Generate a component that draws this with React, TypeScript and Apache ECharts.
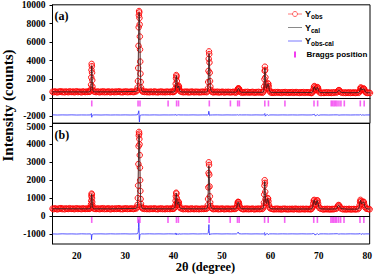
import React, { useEffect, useRef } from 'react';
import * as echarts from 'echarts';

// 2θ (deg), Yobs panel (a), Yobs panel (b)
const observed: number[][] = [
  [15,650,410],[15.25,600,380],[15.5,690,430],[15.75,620,395],[16,580,370],[16.25,670,420],[16.5,640,400],[16.75,700,440],
  [17,610,385],[17.25,660,415],[17.5,590,375],[17.75,680,425],[18,630,400],[18.25,600,390],[18.5,700,435],[18.75,640,405],
  [19,620,395],[19.25,680,420],[19.5,590,380],[19.75,650,410],[20,700,430],[20.25,610,390],[20.5,660,415],[20.75,630,400],
  [21,590,385],[21.25,690,430],[21.5,640,405],[21.75,610,390],[22,670,420],[22.25,630,400],[22.5,660,410],
  [22.6,640,400],[22.8,700,430],[22.9,900,500],[22.96,1400,650],[23.0,2200,850],[23.04,3000,1100],[23.08,3650,1250],
  [23.12,3400,1200],[23.16,2700,1000],[23.2,1900,780],[23.25,1200,600],[23.32,850,480],[23.45,700,420],[23.7,650,400],
  [24,610,390],[24.25,680,420],[24.5,640,405],[24.75,590,380],[25,670,425],[25.25,620,395],[25.5,700,435],[25.75,600,385],
  [26,650,410],[26.25,610,390],[26.5,690,430],[26.75,630,400],[27,590,375],[27.25,670,420],[27.5,640,405],[27.75,600,390],
  [28,680,425],[28.25,620,395],[28.5,650,410],[28.75,700,435],[29,610,385],[29.25,640,405],[29.5,590,380],[29.75,670,420],
  [30,630,400],[30.25,690,430],[30.5,600,390],[30.75,650,410],[31,620,395],[31.25,680,425],[31.5,640,405],[31.75,610,390],[32,670,420],
  [32.3,700,420],[32.45,800,480],[32.55,1100,620],[32.62,1800,1000],[32.68,3200,1700],[32.74,5600,2900],[32.78,7600,3900],
  [32.82,8900,4500],[32.86,9350,4700],[32.9,9200,4600],[32.94,8600,4300],[32.98,7900,4000],[33.02,6600,3400],[33.06,5200,2700],
  [33.1,3900,2000],[33.15,2600,1400],[33.2,1700,950],[33.27,1100,680],[33.35,850,520],[33.5,700,440],[33.7,660,410],
  [34,620,395],[34.25,680,425],[34.5,600,385],[34.75,650,410],[35,590,380],[35.25,670,420],[35.5,630,400],[35.75,600,390],
  [36,690,430],[36.25,610,390],[36.5,640,405],[36.75,580,375],[37,660,415],[37.25,620,395],[37.5,680,425],[37.75,600,385],
  [38,640,405],[38.25,590,380],[38.5,670,420],[38.75,620,395],[39,650,410],[39.25,600,385],[39.5,680,425],[39.75,630,400],
  [39.9,620,400],[40.1,650,420],[40.25,750,480],[40.35,1000,620],[40.42,1500,850],[40.48,2100,1100],[40.54,2450,1300],
  [40.6,2300,1250],[40.66,1800,1000],[40.72,1300,780],[40.8,1050,650],[40.88,1000,640],[40.95,1150,720],[41.02,1300,800],
  [41.08,1200,760],[41.15,950,620],[41.25,780,500],[41.4,680,440],[41.7,630,410],
  [42,590,380],[42.25,660,415],[42.5,610,390],[42.75,670,420],[43,580,375],[43.25,640,405],[43.5,600,385],[43.75,680,425],
  [44,620,395],[44.25,590,380],[44.5,660,415],[44.75,610,390],[45,650,410],[45.25,580,375],[45.5,640,405],[45.75,600,390],
  [46,670,420],[46.25,610,390],[46.5,640,405],
  [46.8,600,400],[46.95,700,450],[47.05,1000,600],[47.12,1700,950],[47.18,2900,1600],[47.23,4200,2400],[47.28,5000,3000],
  [47.33,4700,2850],[47.38,3800,2300],[47.44,2700,1650],[47.5,1800,1100],[47.57,1200,760],[47.66,850,560],[47.8,680,450],[48,620,410],
  [48.25,580,380],[48.5,650,415],[48.75,600,390],[49,660,420],[49.25,570,375],[49.5,630,405],[49.75,590,385],[50,660,420],
  [50.25,610,395],[50.5,570,375],[50.75,640,410],[51,600,390],[51.25,650,415],[51.5,580,380],[51.75,620,400],[52,590,385],
  [52.25,650,415],[52.5,600,390],
  [52.8,560,400],[53,620,450],[53.12,750,560],[53.2,900,690],[53.28,1000,790],[53.36,980,760],[53.44,1000,780],[53.52,900,680],
  [53.62,740,560],[53.75,620,470],[54,560,410],
  [54.25,600,390],[54.5,560,375],[54.75,630,410],[55,580,385],[55.25,640,415],[55.5,560,375],[55.75,610,400],[56,580,385],
  [56.25,640,415],[56.5,590,390],[56.75,550,370],[57,620,405],[57.25,580,385],[57.5,640,415],[57.75,570,380],[58,610,400],
  [58.3,540,390],[58.5,620,430],[58.6,800,540],[58.66,1200,750],[58.72,2000,1200],[58.77,2900,1700],[58.82,3350,2000],
  [58.87,3000,1850],[58.93,2200,1350],[59,1500,950],[59.08,1150,760],[59.16,1000,700],[59.25,1050,740],[59.35,1300,850],
  [59.45,1550,990],[59.52,1500,970],[59.6,1250,820],[59.7,900,620],[59.82,680,480],[60,580,420],[60.3,540,400],
  [60.5,590,390],[60.75,540,370],[61,610,405],[61.25,560,380],[61.5,620,410],[61.75,550,375],[62,590,395],[62.25,530,365],
  [62.5,600,400],[62.75,570,385],[63,620,410],[63.25,550,375],[63.5,590,395],[63.75,540,370],[64,600,400],[64.25,560,380],
  [64.5,610,405],[64.75,540,370],[65,580,390],[65.25,620,410],[65.5,550,375],[65.75,590,395],[66,530,365],[66.25,600,400],
  [66.5,560,380],[66.75,610,405],[67,540,370],[67.25,580,390],[67.5,600,400],[67.75,550,375],[68,590,395],[68.25,540,370],
  [68.4,510,390],[68.6,560,420],[68.75,700,530],[68.85,950,700],[68.95,1200,860],[69.05,1260,900],[69.15,1100,800],
  [69.25,900,660],[69.35,820,610],[69.45,880,660],[69.55,1050,790],[69.65,1150,880],[69.75,1100,850],[69.85,900,700],
  [69.95,700,550],[70.1,580,450],[70.4,510,400],
  [70.75,560,385],[71,520,365],[71.25,580,395],[71.5,540,375],[71.75,590,400],[72,530,370],[72.25,570,390],[72.5,520,365],
  [72.75,580,395],[73,540,375],[73.25,590,400],
  [73.6,560,400],[73.8,640,470],[73.95,780,580],[74.1,830,615],[74.25,760,570],[74.4,640,480],[74.6,560,410],
  [75,530,370],[75.25,580,395],[75.5,520,365],[75.75,570,390],[76,530,370],[76.25,590,400],[76.5,520,365],[76.75,560,385],
  [77,540,375],[77.25,580,395],[77.5,520,365],[77.75,560,385],
  [78.1,540,380],[78.3,600,440],[78.42,750,600],[78.52,1000,800],[78.6,1120,900],[78.7,1000,820],[78.82,850,680],
  [78.95,850,680],[79.08,950,760],[79.2,1000,800],[79.3,960,770],[79.42,780,620],[79.55,620,490],[79.75,540,420],[80,520,400],
  [80.25,560,390],[80.5,520,375],
];

// 2θ (deg), Ycal panel (a), Ycal panel (b)
const calculated: number[][] = [
  [15,640,405],[19,635,402],[22.5,630,400],[22.8,690,425],[22.9,870,490],[22.96,1350,640],[23.0,2150,840],[23.04,2950,1080],
  [23.08,3450,1220],[23.12,3300,1180],[23.16,2700,990],[23.2,1850,770],[23.25,1180,590],[23.32,830,470],[23.45,690,420],
  [23.7,640,402],[27,632,400],[32.3,690,425],[32.45,790,475],[32.55,1080,610],[32.62,1750,980],[32.68,3100,1650],
  [32.74,5400,2750],[32.78,7400,3750],[32.82,8800,4350],[32.86,9200,4550],[32.9,9050,4450],[32.94,8500,4200],[32.98,7800,3900],
  [33.02,6600,3350],[33.06,5300,2700],[33.1,3950,2050],[33.15,2650,1450],[33.2,1750,980],[33.27,1120,690],[33.35,850,520],
  [33.5,700,440],[33.7,650,408],[37,625,400],[39.9,625,402],[40.1,650,418],[40.25,740,475],[40.35,980,610],[40.42,1450,830],
  [40.48,2050,1080],[40.54,2380,1270],[40.6,2250,1220],[40.66,1780,980],[40.72,1300,770],[40.8,1060,650],[40.88,1010,645],
  [40.95,1140,715],[41.02,1280,790],[41.08,1190,750],[41.15,950,615],[41.25,780,500],[41.4,670,440],[41.7,625,408],
  [44,618,400],[46.8,615,402],[46.95,700,450],[47.05,990,600],[47.12,1650,940],[47.18,2800,1550],[47.23,4050,2300],
  [47.28,4750,2800],[47.33,4550,2700],[47.38,3750,2250],[47.44,2700,1620],[47.5,1800,1090],[47.57,1200,760],[47.66,850,560],
  [47.8,680,450],[48,620,410],[50,610,398],[52.8,600,400],[53,630,450],[53.12,750,560],[53.2,890,680],[53.28,980,770],
  [53.36,965,750],[53.44,975,760],[53.52,880,670],[53.62,735,555],[53.75,625,470],[54,590,410],[56,595,396],[58.3,585,395],
  [58.5,630,430],[58.6,800,540],[58.66,1180,740],[58.72,1950,1170],[58.77,2800,1650],[58.82,3200,1930],[58.87,2950,1800],
  [58.93,2200,1340],[59,1520,960],[59.08,1160,770],[59.16,1020,705],[59.25,1060,745],[59.35,1290,850],[59.45,1500,970],
  [59.52,1470,955],[59.6,1230,810],[59.7,900,620],[59.82,690,480],[60,600,420],[60.3,580,400],[64,575,390],[68.4,565,392],
  [68.6,590,420],[68.75,710,530],[68.85,940,690],[68.95,1170,850],[69.05,1220,885],[69.15,1090,795],[69.25,900,665],
  [69.35,830,615],[69.45,880,660],[69.55,1030,780],[69.65,1120,860],[69.75,1080,835],[69.85,890,690],[69.95,710,550],
  [70.1,600,450],[70.4,565,400],[72,555,385],[73.6,560,395],[73.8,630,465],[73.95,760,570],[74.1,810,605],[74.25,750,565],
  [74.4,640,480],[74.6,570,410],[76,550,382],[78.1,555,385],[78.3,610,440],[78.42,740,590],[78.52,980,790],[78.6,1090,880],
  [78.7,990,810],[78.82,850,680],[78.95,850,680],[79.08,940,750],[79.2,980,790],[79.3,940,760],[79.42,780,620],[79.55,630,490],
  [79.75,560,420],[80,545,400],[80.5,540,390],
];

// 2θ (deg), Yobs-cal panel (a) (offset), Yobs-cal panel (b) (offset)
const difference: number[][] = [
  [15,-1840,-1000],[16,-1860,-1010],[17,-1845,-995],[18,-1855,-1005],[19,-1840,-1000],[20,-1860,-1008],[21,-1848,-996],
  [22,-1855,-1004],[22.8,-1850,-1000],[22.95,-1800,-1010],[23.02,-1700,-1080],[23.06,-1900,-1320],[23.1,-2100,-1200],
  [23.14,-1950,-1060],[23.25,-1860,-1010],[23.5,-1850,-1000],[24,-1845,-1002],[25,-1858,-998],[26,-1842,-1006],
  [27,-1856,-996],[28,-1846,-1004],[29,-1855,-1000],[30,-1843,-997],[31,-1857,-1005],[32,-1848,-1000],[32.5,-1840,-1000],
  [32.62,-1800,-990],[32.7,-1650,-900],[32.76,-1500,-650],[32.8,-1400,-250],[32.84,-1650,-200],[32.88,-2200,-600],
  [32.93,-2600,-1320],[32.98,-2300,-1250],[33.04,-1950,-1100],[33.1,-1880,-1040],[33.2,-1860,-1010],[33.4,-1850,-1000],
  [34,-1845,-1004],[35,-1856,-996],[36,-1842,-1003],[37,-1858,-998],[38,-1846,-1005],[39,-1853,-997],[40,-1845,-1002],
  [40.3,-1850,-1000],[40.45,-1800,-960],[40.52,-1880,-1050],[40.6,-1820,-980],[40.7,-1870,-1040],[40.85,-1840,-990],
  [41,-1830,-1030],[41.1,-1860,-980],[41.3,-1850,-1010],[42,-1848,-1000],[43,-1855,-1004],[44,-1843,-996],[45,-1857,-1005],
  [46,-1846,-998],[47,-1850,-1000],[47.15,-1820,-960],[47.25,-1450,-700],[47.3,-1400,-480],[47.35,-1750,-800],
  [47.42,-1920,-1060],[47.55,-1860,-1010],[48,-1850,-1000],[49,-1842,-996],[50,-1856,-1004],[51,-1845,-998],[52,-1853,-1003],
  [53,-1850,-1000],[53.2,-1830,-960],[53.35,-1870,-900],[53.5,-1840,-990],[54,-1850,-1002],[55,-1845,-997],[56,-1856,-1004],
  [57,-1843,-999],[58,-1854,-1003],[58.6,-1850,-1000],[58.72,-1780,-970],[58.8,-1700,-930],[58.88,-1980,-1080],
  [59,-1880,-1020],[59.4,-1820,-980],[59.55,-1900,-1040],[59.8,-1850,-1000],[60.5,-1846,-998],[61.5,-1856,-1004],
  [62.5,-1844,-997],[63.5,-1855,-1003],[64.5,-1845,-998],[65.5,-1857,-1004],[66.5,-1843,-997],[67.5,-1854,-1003],
  [68.5,-1850,-1000],[68.9,-1800,-980],[69.05,-1780,-990],[69.2,-1950,-1060],[69.5,-1870,-1020],[69.7,-1820,-980],
  [69.9,-1900,-1040],[70.2,-1850,-1000],[71,-1845,-998],[72,-1856,-1004],[73,-1843,-997],[73.8,-1840,-990],
  [74.1,-1870,-1010],[74.5,-1850,-1000],[75.5,-1846,-1004],[76.5,-1855,-997],[77.5,-1844,-1003],[78.3,-1850,-1000],
  [78.55,-1810,-980],[78.7,-1880,-1030],[79,-1840,-990],[79.3,-1870,-1010],[79.6,-1850,-1000],[80.5,-1848,-1000],
];

const braggPositions = [23.1, 32.65, 33.05, 38.85, 40.6, 41.0, 47.35, 51.7, 53.2, 53.55, 58.8, 59.55, 62.95,
  68.95, 69.7, 72.5, 72.8, 73.1, 73.4, 73.7, 74.1, 74.5, 75.2, 78.5, 79.3];
const braggLevelA = -610;
const braggLevelB = -220;

const xTicks = [20, 30, 40, 50, 60, 70, 80];
const yTicksA = [-2000, 0, 2000, 4000, 6000, 8000, 10000];
const yTicksB = [-1000, 0, 1000, 2000, 3000, 4000, 5000];

const SERIF = '"Liberation Serif", "Times New Roman", serif';
const SANS = '"Liberation Sans", Arial, sans-serif';

export default function App() {
  const ref = useRef<HTMLDivElement>(null);
  useEffect(() => {
    if (!ref.current) return;
    const chart = echarts.init(ref.current, undefined, { renderer: 'svg' });
    const left = 52.5, right = 5;
    const labelStyle = { fontFamily: SERIF, fontWeight: 'bold' as const, fontSize: 9.5, color: '#000' };
    const mkX = (idx: number, show: boolean) => ({
      type: 'value', gridIndex: idx, min: 15, max: 80.5,
      axisLine: { show: true, lineStyle: { color: '#000', width: 1 } },
      axisTick: { show: false },
      splitLine: { show: false },
      axisLabel: show ? { ...labelStyle, margin: 7, customValues: xTicks, formatter: (v: number) => String(v) } : { show: false },
    });
    const mkY = (idx: number, min: number, max: number, ticks: number[]) => ({
      type: 'value', gridIndex: idx, min, max,
      axisLine: { show: true, lineStyle: { color: '#000', width: 1 } },
      axisTick: { show: true, length: 3, customValues: ticks, lineStyle: { color: '#000' } },
      splitLine: { show: false },
      axisLabel: { ...labelStyle, margin: 7, customValues: ticks, formatter: (v: number) => String(v) },
    });
    const obsSeries = (idx: number, col: number) => ({
      name: 'Yobs', type: 'line', xAxisIndex: idx, yAxisIndex: idx,
      data: observed.map(r => [r[0], r[col]]),
      symbol: 'circle', symbolSize: 5.5, showAllSymbol: true,
      lineStyle: { color: '#ff5a5a', width: 0.6 },
      itemStyle: { color: 'rgba(255,140,140,0.12)', borderColor: '#ff0000', borderWidth: 0.9 },
      z: 2, silent: true,
    });
    const calSeries = (idx: number, col: number) => ({
      name: 'Ycal', type: 'line', xAxisIndex: idx, yAxisIndex: idx,
      data: calculated.map(r => [r[0], r[col]]),
      symbol: 'none', lineStyle: { color: '#222', width: 0.8 },
      z: 3, silent: true,
    });
    const diffSeries = (idx: number, col: number) => ({
      name: 'Yobs-cal', type: 'line', xAxisIndex: idx, yAxisIndex: idx,
      data: difference.map(r => [r[0], r[col]]),
      symbol: 'none', lineStyle: { color: '#2b2bff', width: 0.8 },
      z: 3, silent: true,
    });
    const braggSeries = (idx: number, level: number) => ({
      name: 'Braggs position', type: 'scatter', xAxisIndex: idx, yAxisIndex: idx,
      data: braggPositions.map(p => [p, level]),
      symbol: 'rect', symbolSize: [1.6, 6], itemStyle: { color: '#f23cf0' },
      z: 3, silent: true,
    });
    const richLegend = {
      m: { fontFamily: SANS, fontWeight: 'bold', fontSize: 9, lineHeight: 12, fill: '#000' },
      s: { fontFamily: SANS, fontWeight: 'bold', fontSize: 6.5, lineHeight: 6, verticalAlign: 'bottom', fill: '#000' },
    };
    const rows = [14, 27.5, 41, 54.5];
    const legendText = (y: number, text: string) => ({
      type: 'text', x: 305, y,
      style: { text, rich: richLegend, verticalAlign: 'middle', fill: '#000', font: 'bold 9px ' + SANS },
    });
    chart.setOption({
      animation: false,
      grid: [
        { left, right, top: 4.5, height: 118.8, show: true, borderColor: '#000', borderWidth: 1, backgroundColor: 'transparent' },
        { left, right, top: 123.3, height: 120.7, show: true, borderColor: '#000', borderWidth: 1, backgroundColor: 'transparent' },
      ],
      xAxis: [mkX(0, false), mkX(1, true)],
      yAxis: [mkY(0, -2750, 10020, yTicksA), mkY(1, -1565, 5180, yTicksB)],
      graphic: [
        { type: 'text', x: 54.5, y: 15.5, style: { text: '(a)', font: 'bold 12px ' + SERIF, fill: '#000', verticalAlign: 'middle' } },
        { type: 'text', x: 54.5, y: 134.5, style: { text: '(b)', font: 'bold 12px ' + SERIF, fill: '#000', verticalAlign: 'middle' } },
        { type: 'text', x: 8, y: 105.5, rotation: Math.PI / 2,
          style: { text: 'Intensity (counts)', font: 'bold 15px ' + SERIF, fill: '#000', align: 'center', verticalAlign: 'middle' } },
        { type: 'text', x: 205.5, y: 266.5,
          style: { text: '2θ (degree)', font: 'bold 12.5px ' + SERIF, fill: '#000', align: 'center', verticalAlign: 'middle' } },
        // legend
        { type: 'line', shape: { x1: 288, y1: rows[0], x2: 302, y2: rows[0] }, style: { stroke: '#ff7a7a', lineWidth: 1 } },
        { type: 'circle', shape: { cx: 295, cy: rows[0], r: 2.5 }, style: { stroke: '#ff5050', fill: '#fff', lineWidth: 0.9 } },
        legendText(rows[0], '{m|Y}{s|obs}'),
        { type: 'line', shape: { x1: 288, y1: rows[1], x2: 302, y2: rows[1] }, style: { stroke: '#8a8a8a', lineWidth: 1 } },
        legendText(rows[1], '{m|Y}{s|cal}'),
        { type: 'line', shape: { x1: 288, y1: rows[2], x2: 302, y2: rows[2] }, style: { stroke: '#7a7aff', lineWidth: 1 } },
        legendText(rows[2], '{m|Y}{s|obs-cal}'),
        { type: 'rect', shape: { x: 294, y: rows[3] - 3, width: 2, height: 6 }, style: { fill: '#f23cf0' } },
        { type: 'text', x: 306.5, y: rows[3], style: { text: 'Braggs position', font: 'bold 8px ' + SANS, fill: '#000', verticalAlign: 'middle' } },
      ],
      series: [
        obsSeries(0, 1), calSeries(0, 1), diffSeries(0, 1), braggSeries(0, braggLevelA),
        obsSeries(1, 2), calSeries(1, 2), diffSeries(1, 2), braggSeries(1, braggLevelB),
      ],
    });
    return () => chart.dispose();
  }, []);
  return <div ref={ref} style={{ position: 'fixed', left: 0, top: 0, width: 375, height: 274, background: '#fff' }} />;
}
